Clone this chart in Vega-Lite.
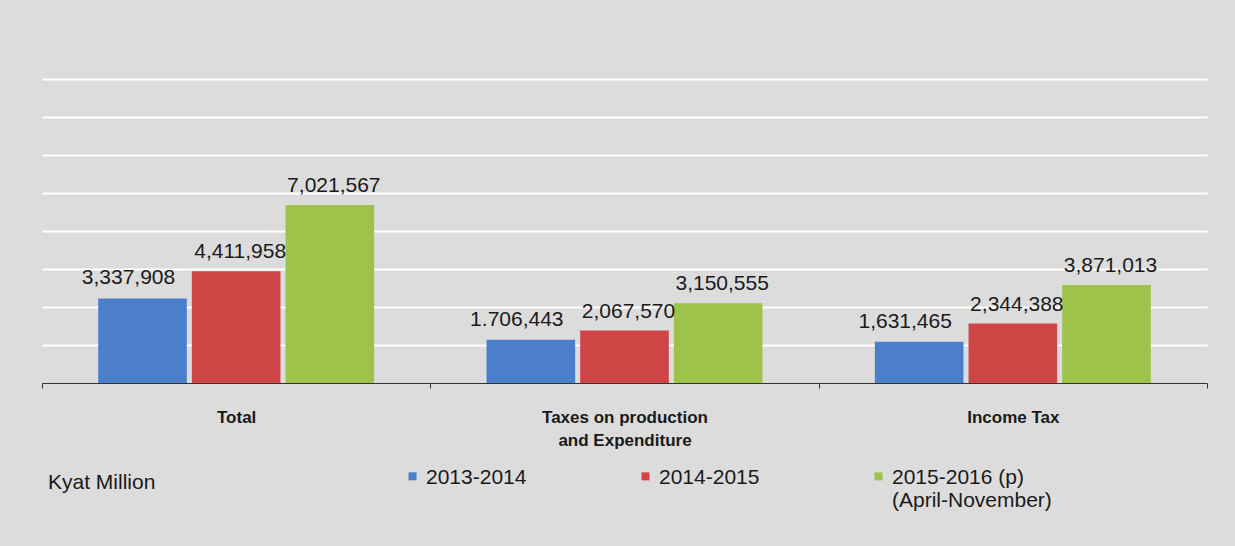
{
  "$schema": "https://vega.github.io/schema/vega-lite/v6.json",
  "width": 1165,
  "height": 304,
  "autosize": {"type": "none"},
  "padding": {"left": 42, "top": 79, "right": 28, "bottom": 163},
  "background": "#dcdcdc",
  "config": {"view": {"stroke": null}, "font": "Liberation Sans"},
  "data": {
    "values": [
      {"category": "Total", "year": "2013-2014", "value": 3337908, "label": "3,337,908"},
      {"category": "Total", "year": "2014-2015", "value": 4411958, "label": "4,411,958"},
      {"category": "Total", "year": "2015-2016 (p)", "value": 7021567, "label": "7,021,567"},
      {"category": "Taxes on production and Expenditure", "year": "2013-2014", "value": 1706443, "label": "1.706,443"},
      {"category": "Taxes on production and Expenditure", "year": "2014-2015", "value": 2067570, "label": "2,067,570"},
      {"category": "Taxes on production and Expenditure", "year": "2015-2016 (p)", "value": 3150555, "label": "3,150,555"},
      {"category": "Income Tax", "year": "2013-2014", "value": 1631465, "label": "1,631,465"},
      {"category": "Income Tax", "year": "2014-2015", "value": 2344388, "label": "2,344,388"},
      {"category": "Income Tax", "year": "2015-2016 (p)", "value": 3871013, "label": "3,871,013"}
    ]
  },
  "encoding": {
    "x": {
      "field": "category",
      "type": "nominal",
      "sort": ["Total", "Taxes on production and Expenditure", "Income Tax"],
      "scale": {"paddingInner": 0, "paddingOuter": 0},
      "axis": {
        "title": null,
        "labelAngle": 0,
        "tickBand": "extent",
        "labelFont": "Liberation Sans",
        "labelFontWeight": "bold",
        "labelFontSize": 17,
        "labelColor": "#1a1a1a",
        "labelPadding": 21,
        "labelLineHeight": 23,
        "domainColor": "#333333",
        "tickColor": "#333333",
        "tickSize": 5,
        "grid": false,
        "labelExpr": "datum.label == 'Taxes on production and Expenditure' ? ['Taxes on production', 'and Expenditure'] : datum.label"
      }
    },
    "xOffset": {
      "field": "year",
      "type": "nominal",
      "sort": ["2013-2014", "2014-2015", "2015-2016 (p)"],
      "scale": {"paddingInner": 0.054, "paddingOuter": 0.6}
    },
    "y": {
      "field": "value",
      "type": "quantitative",
      "scale": {"domain": [0, 12000000]},
      "axis": {
        "title": null,
        "labels": false,
        "ticks": false,
        "domain": false,
        "grid": true,
        "gridColor": "#ffffff",
        "gridWidth": 2,
        "values": [1500000, 3000000, 4500000, 6000000, 7500000, 9000000, 10500000, 12000000]
      }
    }
  },
  "layer": [
    {
      "mark": {"type": "bar"},
      "encoding": {
        "color": {
          "field": "year",
          "type": "nominal",
          "sort": ["2013-2014", "2014-2015", "2015-2016 (p)"],
          "scale": {"range": ["#4b7fc9", "#cf4545", "#9dc34b"]},
          "legend": {
            "orient": "none",
            "legendX": 6,
            "legendY": 377,
            "direction": "horizontal",
            "columns": 3,
            "title": "Kyat Million",
            "titleOrient": "left",
            "titlePadding": 246,
            "titleFontSize": 21,
            "titleFontWeight": "normal",
            "titleColor": "#1a1a1a",
            "labelFontSize": 21,
            "labelColor": "#1a1a1a",
            "labelLimit": 300,
            "labelOffset": 3,
            "labelBaseline": "top",
            "labelLineHeight": 22,
            "symbolType": "M-1,1.4H1V3.4H-1Z",
            "symbolSize": 64,
            "symbolStrokeWidth": 0,
            "columnPadding": 108,
            "labelExpr": "datum.label == '2015-2016 (p)' ? ['2015-2016 (p)', '(April-November)'] : [datum.label, '']"
          }
        }
      }
    },
    {
      "transform": [{"filter": "datum.year == '2013-2014'"}],
      "mark": {"type": "text", "baseline": "alphabetic", "dy": -14, "dx": -14, "fontSize": 21, "color": "#1a1a1a"},
      "encoding": {"text": {"field": "label"}}
    },
    {
      "transform": [{"filter": "datum.year != '2013-2014'"}],
      "mark": {"type": "text", "baseline": "alphabetic", "dy": -13, "dx": 4, "fontSize": 21, "color": "#1a1a1a"},
      "encoding": {"text": {"field": "label"}}
    }
  ]
}
